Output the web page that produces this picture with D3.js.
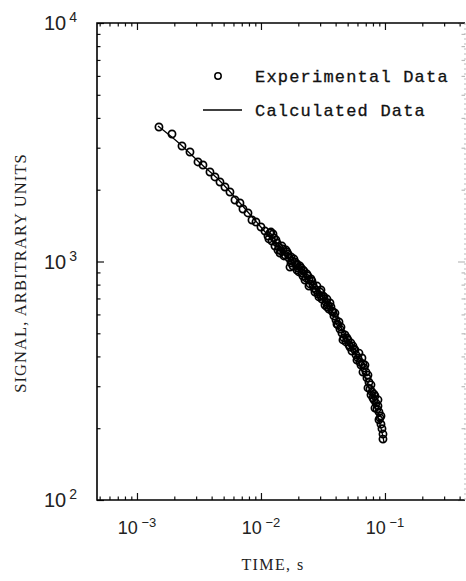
<!DOCTYPE html>
<html>
<head>
<meta charset="utf-8">
<script src="https://cdn.jsdelivr.net/npm/d3@7/dist/d3.min.js"></script>
<style>
  body { margin: 0; background: #fff; }
</style>
</head>
<body>
<div id="chart"></div>
<script>
const expTime = [
  0.001504, 0.001916, 0.002307, 0.002676, 0.003104, 0.003406, 0.003879, 0.004256, 0.004671, 0.005125,
  0.005623, 0.006170, 0.006770, 0.007158, 0.007856, 0.008462, 0.009115, 0.01000, 0.01077,
  0.01139, 0.01182, 0.01227, 0.01273, 0.01297, 0.01346, 0.01397, 0.01450, 0.01504, 0.01561,
  0.01621, 0.01682, 0.01714, 0.01778, 0.01845, 0.01916, 0.01988, 0.02063, 0.02141, 0.02223,
  0.02307, 0.02393, 0.02484, 0.02578, 0.02676, 0.02777, 0.02882, 0.02991, 0.03104, 0.03222,
  0.03344, 0.03470, 0.03602, 0.03738, 0.03879, 0.04026, 0.04178, 0.04336, 0.04500, 0.04671,
  0.04848, 0.05030, 0.05221, 0.05418, 0.05623, 0.05836, 0.06057, 0.06286, 0.06523, 0.06770,
  0.07027, 0.07158, 0.07430, 0.07568, 0.07856, 0.08002, 0.08306, 0.08461, 0.08620, 0.08947,
  0.09115, 0.09285, 0.09459, 0.09636, 0.09636,
  0.01250, 0.01423, 0.01591, 0.01746, 0.01951, 0.02182, 0.02438, 0.02726, 0.03047, 0.03406,
  0.03808, 0.04256, 0.04759, 0.05520, 0.06170, 0.06646, 0.07293, 0.07712, 0.08152, 0.08781,
  0.01160, 0.01204, 0.01321, 0.01371, 0.01477, 0.01533, 0.01651, 0.01746, 0.01812, 0.01880,
  0.01951, 0.02025, 0.02102, 0.02182, 0.02264, 0.02350, 0.02438, 0.02530, 0.02627, 0.02829,
  0.02936, 0.03047, 0.03162, 0.03282, 0.03406, 0.03535, 0.03669, 0.03951, 0.04101, 0.04418,
  0.04585, 0.04938, 0.05125, 0.05318, 0.05729, 0.05945, 0.06405, 0.06646, 0.06898, 0.07293,
  0.07712, 0.08152, 0.08306, 0.08781, 0.08947, 0.09285
];
const expSignal = [
  3664, 3424, 3050, 2878, 2614, 2539, 2373, 2262, 2154, 2053,
  1956, 1811, 1759, 1660, 1598, 1493, 1464, 1395, 1342,
  1279, 1317, 1219, 1255, 1161, 1196, 1150, 1107, 1128, 1065,
  1096, 1034, 948, 1005, 1024, 967, 939, 957, 895, 912,
  853, 869, 805, 828, 774, 760, 731, 745, 696, 710,
  676, 657, 670, 620, 591, 569, 542, 521, 501, 478,
  460, 469, 438, 421, 430, 406, 394, 379, 394, 358,
  344, 325, 312, 292, 284, 268, 273, 255, 241, 234,
  221, 208, 199, 189, 180,
  1304, 1085, 1117, 986, 921, 869, 836, 745, 717, 645,
  614, 558, 492, 442, 413, 372, 334, 304, 278, 248,
  1243, 1329, 1231, 1117, 1161, 1055, 1075, 1045, 957, 995,
  976, 904, 939, 921, 836, 886, 789, 845, 797, 789,
  710, 760, 717, 657, 696, 632, 645, 608, 547, 531,
  469, 478, 447, 455, 426, 386, 368, 344, 368, 295,
  276, 263, 243, 263, 217, 225
];
// calculated curve
const calcTime = [0.001477, 0.002223, 0.003222, 0.004671, 0.006770, 0.009815, 0.01423, 0.02063, 0.02991,
  0.03951, 0.04759, 0.05729, 0.06523, 0.07293, 0.08152, 0.08781, 0.09285, 0.09636, 0.09815];
const calcSignal = [3699, 3109, 2588, 2175, 1759, 1409, 1128, 912, 731,
  591, 492, 409, 351, 304, 255, 223, 200, 184, 175];

const xDomain = [4.76e-4, 0.442];
const yDomain = [100, 10000];
const xMajor = [1e-3, 1e-2, 1e-1];
const xMajorExp = ["\u22123", "\u22122", "\u22121"];
const yMajor = [1e2, 1e3, 1e4];
const yMajorExp = ["2", "3", "4"];
const legendLabels = ["Experimental Data", "Calculated Data"];
const xTitle = "TIME, s";
const yTitle = "SIGNAL, ARBITRARY UNITS";

const W = 466, H = 581;
const margin = {left: 97, top: 23, right: 1, bottom: 81};
const w = W - margin.left - margin.right;
const h = H - margin.top - margin.bottom;

const svg = d3.select("#chart").append("svg")
    .attr("width", W)
    .attr("height", H);

const g = svg.append("g")
    .attr("transform", "translate(" + margin.left + "," + margin.top + ")");

const x = d3.scaleLog().domain(xDomain).range([0, w]);
const y = d3.scaleLog().domain(yDomain).range([h, 0]);

const isMajor = v => Math.abs(Math.log10(v) - Math.round(Math.log10(v))) < 1e-6;
const xMinor = x.ticks().filter(v => !isMajor(v));
const yMinor = y.ticks().filter(v => !isMajor(v));

function clean(sel, col) {
    sel.select(".domain").remove();
    sel.selectAll("line").attr("stroke", col).attr("stroke-width", 1.2);
}

// bottom + top ticks (inside)
g.append("g").attr("transform", "translate(0," + h + ")")
    .call(d3.axisBottom(x).tickValues(xMinor).tickSize(-3.5).tickFormat(""))
    .call(clean, "#111");
g.append("g").attr("transform", "translate(0," + h + ")")
    .call(d3.axisBottom(x).tickValues(xMajor).tickSize(-7).tickFormat(""))
    .call(clean, "#111");
g.append("g")
    .call(d3.axisTop(x).tickValues(xMinor).tickSize(-3.5).tickFormat(""))
    .call(clean, "#111");
g.append("g")
    .call(d3.axisTop(x).tickValues(xMajor).tickSize(-7).tickFormat(""))
    .call(clean, "#111");

// left + right ticks
g.append("g")
    .call(d3.axisLeft(y).tickValues(yMinor).tickSize(-3.5).tickFormat(""))
    .call(clean, "#111");
g.append("g")
    .call(d3.axisLeft(y).tickValues(yMajor).tickSize(-7).tickFormat(""))
    .call(clean, "#111");
g.append("g").attr("transform", "translate(" + w + ",0)")
    .call(d3.axisRight(y).tickValues(yMinor).tickSize(-3.5).tickFormat(""))
    .call(clean, "#bbb");
g.append("g").attr("transform", "translate(" + w + ",0)")
    .call(d3.axisRight(y).tickValues(yMajor).tickSize(-7).tickFormat(""))
    .call(clean, "#bbb");

// frame
g.append("path")
    .attr("d", "M" + w + ",0H0V" + h + "H" + w)
    .attr("fill", "none").attr("stroke", "#000").attr("stroke-width", 1.6);
g.append("line")
    .attr("x1", w).attr("x2", w).attr("y1", 0).attr("y2", h)
    .attr("stroke", "#bbb").attr("stroke-width", 1).attr("stroke-dasharray", "2,3");

// tick labels
const labelFont = "'Liberation Sans', Arial, sans-serif";
const xl = g.append("g").selectAll("text").data(xMajor).join("text")
    .attr("x", d => x(d))
    .attr("y", h + 34)
    .attr("text-anchor", "middle")
    .style("font-family", labelFont)
    .style("font-size", "18px")
    .attr("fill", "#222");
xl.append("tspan").text("10");
xl.append("tspan").attr("dy", "-0.55em").style("font-size", "13px").text((d, i) => " " + xMajorExp[i]);

const yl = g.append("g").selectAll("text").data(yMajor).join("text")
    .attr("x", -20)
    .attr("y", d => y(d) + 7)
    .attr("text-anchor", "end")
    .style("font-family", labelFont)
    .style("font-size", "20px")
    .attr("fill", "#222");
yl.append("tspan").text("10");
yl.append("tspan").attr("dx", 3).attr("dy", "-0.55em").style("font-size", "14px").text((d, i) => yMajorExp[i]);

// axis titles
svg.append("text")
    .attr("x", 273).attr("y", 570)
    .attr("text-anchor", "middle")
    .style("font-family", "'Liberation Serif', 'Times New Roman', serif")
    .style("font-size", "16px")
    .style("letter-spacing", "1.4px")
    .attr("fill", "#222")
    .text(xTitle);
svg.append("text")
    .attr("transform", "translate(26,273) rotate(-90)")
    .attr("text-anchor", "middle")
    .style("font-family", "'Liberation Serif', 'Times New Roman', serif")
    .style("font-size", "16.5px")
    .style("letter-spacing", "1.1px")
    .attr("fill", "#222")
    .text(yTitle);

// calculated line
const calcData = calcTime.map((t, i) => ({t: t, s: calcSignal[i]}));
const line = d3.line().x(d => x(d.t)).y(d => y(d.s)).curve(d3.curveMonotoneX);
g.append("path")
    .datum(calcData)
    .attr("d", line)
    .attr("fill", "none")
    .attr("stroke", "#000")
    .attr("stroke-width", 1.3);

// experimental points
const expData = expTime.map((t, i) => ({t: t, s: expSignal[i]}));
g.append("g").selectAll("circle").data(expData).join("circle")
    .attr("cx", d => x(d.t))
    .attr("cy", d => y(d.s))
    .attr("r", 3.6)
    .attr("fill", "none")
    .attr("stroke", "#000")
    .attr("stroke-width", 1.7);

// legend
const legendFont = "'Liberation Mono', 'Courier New', monospace";
const lg = svg.append("g");
lg.append("circle").attr("cx", 218).attr("cy", 76).attr("r", 3.2)
    .attr("fill", "none").attr("stroke", "#000").attr("stroke-width", 1.5);
lg.append("line").attr("x1", 203).attr("x2", 242).attr("y1", 110).attr("y2", 110)
    .attr("stroke", "#000").attr("stroke-width", 1.3);
lg.selectAll("text").data(legendLabels).join("text")
    .attr("x", 255)
    .attr("y", (d, i) => 82 + i * 34)
    .style("font-family", legendFont)
    .style("font-size", "17px")
    .style("letter-spacing", "1.2px")
    .attr("fill", "#111")
    .attr("stroke", "#111")
    .attr("stroke-width", 0.3)
    .text(d => d);
</script>
</body>
</html>
